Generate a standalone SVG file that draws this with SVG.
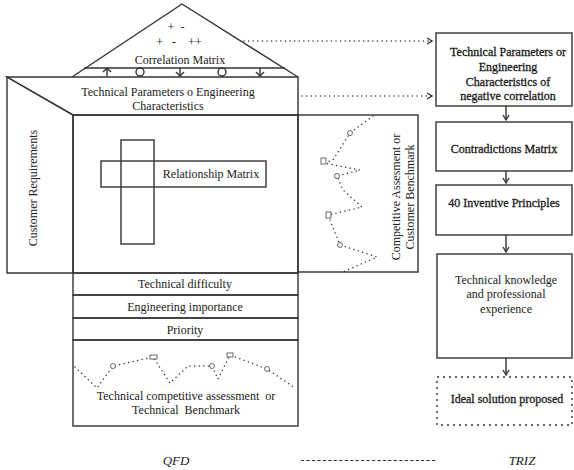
<svg xmlns="http://www.w3.org/2000/svg" width="574" height="470" viewBox="0 0 574 470">
<defs>
<style>
.ln{fill:none;stroke:#333;stroke-width:1.4}
.bx{fill:#fff;stroke:#333;stroke-width:1.4}
.dot{fill:none;stroke:#333;stroke-width:1.4;stroke-dasharray:0.1 4.5;stroke-linecap:round}
.t{font-family:"Liberation Serif","DejaVu Serif",serif;font-size:12px;fill:#222;text-anchor:middle}
.tb{font-family:"Liberation Serif","DejaVu Serif",serif;font-size:12px;fill:#1a1a1a;text-anchor:middle;stroke:#1a1a1a;stroke-width:0.3}
.it{font-family:"Liberation Serif","DejaVu Serif",serif;font-size:13px;fill:#222;text-anchor:middle;font-style:italic}
.sym{fill:#fff;stroke:#444;stroke-width:0.8}
</style>
<marker id="ah" markerWidth="8" markerHeight="8" refX="6" refY="4" orient="auto" markerUnits="userSpaceOnUse">
<path d="M1,1 L6,4 L1,7" fill="none" stroke="#333" stroke-width="1.4"/>
</marker>
</defs>

<g id="roof">
<path class="ln" d="M72,77 L182,4 L298,77"/>
<line class="ln" x1="84" y1="68" x2="285" y2="68"/>
<line class="ln" x1="107" y1="76" x2="107" y2="69"/>
<path class="ln" d="M103,72 L107,68 L111,72"/>
<circle class="ln" cx="140" cy="72" r="4"/>
<line class="ln" x1="180" y1="68" x2="180" y2="76"/>
<path class="ln" d="M176,72 L180,76 L184,72"/>
<circle class="ln" cx="222" cy="72" r="4"/>
<line class="ln" x1="260" y1="68" x2="260" y2="76"/>
<path class="ln" d="M256,72 L260,76 L264,72"/>
<text class="t" x="176" y="31" font-size="10" xml:space="preserve">+  -</text>
<text class="t" x="179" y="46" font-size="10" xml:space="preserve">+   -    ++</text>
<text class="t" x="180" y="64">Correlation Matrix</text>
</g>

<g id="tech-params">
<path class="ln" d="M7,77 L298,77 L298,115 L73,115 Z"/>
<text class="t" x="168" y="96">Technical Parameters o Engineering</text>
<text class="t" x="168" y="110">Characteristics</text>
</g>

<g id="customer-req">
<path class="ln" d="M7,77 L73,115 L73,273 L7,273 Z"/>
<text class="t" transform="translate(37,188) rotate(-90)">Customer Requirements</text>
</g>

<g id="relationship">
<rect class="ln" x="73" y="115" width="225" height="158"/>
<rect class="ln" x="121" y="140" width="33" height="104"/>
<rect class="ln" x="101" y="161" width="165" height="26"/>
<text class="t" x="211" y="178">Relationship Matrix</text>
</g>

<g id="competitive">
<rect class="ln" x="298" y="115" width="120" height="157"/>
<polyline class="dot" points="373,116 350,133 333,160 324,163 360,170 337,176 343,190 362,207 328,215 340,245 377,257 343,272"/>
<circle class="sym" cx="350" cy="133" r="2.5"/>
<rect class="sym" x="321" y="158" width="5" height="6"/>
<circle class="sym" cx="337" cy="176" r="2.5"/>
<rect class="sym" x="326" y="212" width="5" height="6"/>
<circle class="sym" cx="340" cy="245" r="2.5"/>
<text class="t" transform="translate(400,197) rotate(-90)">Competitive Assesment or</text>
<text class="t" transform="translate(414,197) rotate(-90)">Customer Benchmark</text>
</g>

<g id="tech-difficulty">
<rect class="ln" x="73" y="273" width="225" height="22"/>
<text class="t" x="185" y="288">Technical difficulty</text>
</g>
<g id="eng-importance">
<rect class="ln" x="73" y="295" width="225" height="23"/>
<text class="t" x="185" y="311">Engineering importance</text>
</g>
<g id="priority">
<rect class="ln" x="73" y="318" width="225" height="22"/>
<text class="t" x="185" y="334">Priority</text>
</g>
<g id="tech-benchmark">
<rect class="ln" x="73" y="340" width="225" height="86"/>
<polyline class="dot" points="75,367 97,388 113,366 153,357 170,383 188,366 212,366 218,379 230,355 267,369 295,388"/>
<circle class="sym" cx="113" cy="366" r="2.5"/>
<rect class="sym" x="150" y="355" width="7" height="4"/>
<circle class="sym" cx="212" cy="366" r="2.5"/>
<rect class="sym" x="227" y="353" width="6" height="4"/>
<circle class="sym" cx="267" cy="369" r="2.5"/>
<text class="t" x="186" y="400" xml:space="preserve">Technical competitive assessment  or</text>
<text class="t" x="186" y="414" xml:space="preserve">Technical  Benchmark</text>
</g>

<g id="triz-params">
<rect class="bx" x="436" y="33" width="136" height="73"/>
<text class="tb" x="508" y="56">Technical Parameters or</text>
<text class="tb" x="508" y="71">Engineering</text>
<text class="tb" x="508" y="86">Characteristics of</text>
<text class="tb" x="508" y="100">negative correlation</text>
</g>
<g id="contradictions">
<rect class="bx" x="436" y="122" width="136" height="49"/>
<text class="tb" x="504" y="153">Contradictions Matrix</text>
</g>
<g id="principles">
<rect class="bx" x="436" y="185" width="136" height="50"/>
<text class="tb" x="504" y="207">40 Inventive Principles</text>
</g>
<g id="knowledge">
<rect class="bx" x="437" y="254" width="135" height="104"/>
<text class="t" x="506" y="284">Technical knowledge</text>
<text class="t" x="506" y="298">and professional</text>
<text class="t" x="506" y="313">experience</text>
</g>
<g id="ideal">
<rect x="437" y="377" width="135" height="48" fill="none" stroke="#333" stroke-width="1.4" stroke-dasharray="2 4"/>
<text class="tb" x="507" y="403">Ideal solution proposed</text>
</g>

<g id="connectors">
<line class="dot" x1="244" y1="41" x2="432" y2="41" marker-end="url(#ah)"/>
<line class="dot" x1="302" y1="96" x2="432" y2="96" marker-end="url(#ah)"/>
<line class="ln" x1="506" y1="106" x2="506" y2="120" marker-end="url(#ah)"/>
<line class="ln" x1="506" y1="171" x2="506" y2="183" marker-end="url(#ah)"/>
<line class="ln" x1="506" y1="235" x2="506" y2="252" marker-end="url(#ah)"/>
<line class="ln" x1="506" y1="358" x2="506" y2="375" marker-end="url(#ah)"/>
</g>

<g id="labels">
<text class="it" x="176" y="465">QFD</text>
<text class="t" x="368" y="464" textLength="135" lengthAdjust="spacing">-------------------------</text>
<text class="it" x="522" y="465">TRIZ</text>
</g>
</svg>
